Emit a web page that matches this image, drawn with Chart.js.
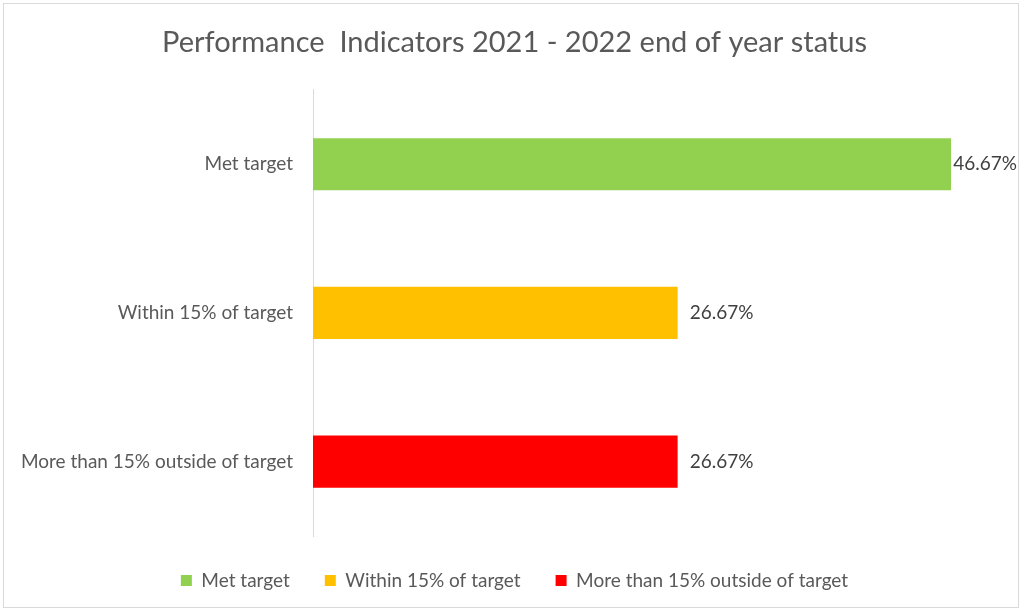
<!DOCTYPE html>
<html lang="en">
<head>
    <meta charset="UTF-8">
    <title>Performance Indicators 2021 - 2022 end of year status</title>
    <script src="https://cdn.jsdelivr.net/npm/chart.js"></script>
    <style>
        html, body {
            margin: 0;
            padding: 0;
            background: #ffffff;
        }
        .frame {
            position: absolute;
            left: 3px;
            top: 3px;
            width: 1014px;
            height: 603px;
            border: 1px solid #d9d9d9;
        }
        #perfChart {
            position: absolute;
            left: 0;
            top: 0;
        }
    </style>
</head>
<body>
    <div class="frame"></div>
    <canvas id="perfChart" width="1029" height="612"></canvas>
    <script>
        const categories = ['Met target', 'Within 15% of target', 'More than 15% outside of target'];
        const percentValues = [46.67, 26.67, 26.67];
        const barColors = ['#92d050', '#ffc000', '#ff0000'];
        const chartTitle = 'Performance  Indicators 2021 - 2022 end of year status';

        const textGrey = '#595959';
        const fontName = 'Lato, "Open Sans", sans-serif';

        // one dataset per category so the legend shows all three
        const datasets = categories.map((name, i) => ({
            label: name,
            data: categories.map((c, j) => (j === i ? percentValues[i] : null)),
            backgroundColor: barColors[i],
            borderWidth: 0,
            barPercentage: 0.35,
            categoryPercentage: 1
        }));

        const valueLabels = {
            id: 'valueLabels',
            afterDatasetsDraw(chart) {
                const ctx = chart.ctx;
                ctx.save();
                ctx.font = '19px ' + fontName;
                ctx.fillStyle = '#404040';
                ctx.textBaseline = 'middle';
                ctx.textAlign = 'left';
                chart.data.datasets.forEach((ds, i) => {
                    const meta = chart.getDatasetMeta(i);
                    meta.data.forEach((bar, j) => {
                        const v = ds.data[j];
                        if (v === null) return;
                        const txt = v.toFixed(2) + '%';
                        const w = ctx.measureText(txt).width;
                        let x = bar.x + 12;
                        if (x + w > chart.width - 12) x = chart.width - 12 - w;
                        ctx.fillText(txt, x, bar.y);
                    });
                });
                ctx.restore();
            }
        };

        new Chart(document.getElementById('perfChart'), {
            type: 'bar',
            data: {
                labels: categories,
                datasets: datasets
            },
            plugins: [valueLabels],
            options: {
                indexAxis: 'y',
                responsive: false,
                animation: false,
                layout: {
                    padding: { left: 16, right: 16, top: 0, bottom: 12 }
                },
                plugins: {
                    title: {
                        display: true,
                        text: chartTitle,
                        color: textGrey,
                        font: { family: fontName, size: 29, weight: 'normal' },
                        padding: { top: 25, bottom: 30 }
                    },
                    legend: {
                        position: 'bottom',
                        labels: {
                            color: textGrey,
                            font: { family: fontName, size: 19 },
                            boxWidth: 11,
                            boxHeight: 11,
                            padding: 35
                        }
                    },
                    tooltip: { enabled: false }
                },
                scales: {
                    x: {
                        display: false,
                        stacked: true,
                        min: 0,
                        max: 51.2
                    },
                    y: {
                        stacked: true,
                        grid: { display: false, drawTicks: false },
                        border: { display: true, color: '#d9d9d9', width: 1 },
                        ticks: {
                            color: textGrey,
                            font: { family: fontName, size: 19 },
                            padding: 20
                        },
                        afterFit(scale) {
                            // left padding (16) + axis width puts the axis line at x = 313
                            scale.width = 297;
                        }
                    }
                }
            }
        });
    </script>
</body>
</html>
